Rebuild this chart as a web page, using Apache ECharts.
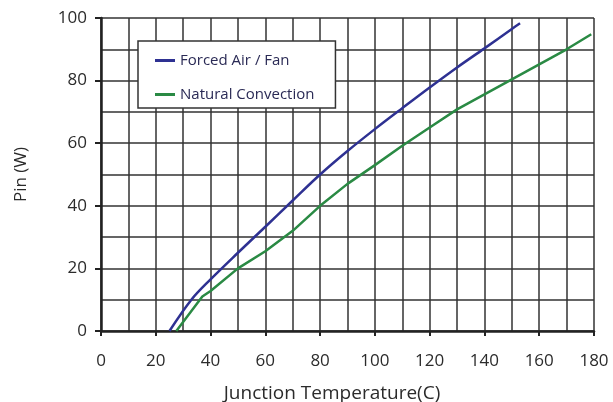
<!DOCTYPE html>
<html>
<head>
<meta charset="utf-8">
<script src="https://cdn.jsdelivr.net/npm/echarts@6/dist/echarts.min.js"></script>
<style>
  html, body { margin: 0; padding: 0; background: #fff; }
  #chart { width: 613px; height: 402px; }
</style>
</head>
<body>
<div id="chart"></div>
<script>
  // Junction temperature (C) vs input power (W)
  var forcedTemp = [25, 33, 40, 50, 60, 70, 80, 90, 100, 110, 120, 130, 140, 150, 153];
  var forcedPin = [0, 10, 16.5, 25, 33.3, 41.7, 50, 57.5, 64.5, 71.2, 77.8, 84.2, 90.3, 96.5, 98.3];

  var naturalTemp = [27.5, 37, 40, 50, 60, 70, 80, 90, 100, 110, 120, 130, 140, 150, 160, 170, 179];
  var naturalPin = [0, 11, 12.8, 20, 25.5, 32, 40, 47, 53, 59.2, 65, 70.8, 75.6, 80.4, 85.2, 90, 94.8];

  var seriesNames = ['Forced Air / Fan', 'Natural Convection'];
  var seriesColors = ['#2e3192', '#2a8a44'];

  function pairs(xs, ys) {
    return xs.map(function (x, i) { return [x, ys[i]]; });
  }

  var chart = echarts.init(document.getElementById('chart'));

  var gridLine = {show: true, lineStyle: {color: '#333', width: 1.5}};

  chart.setOption({
    animation: false,
    textStyle: {fontFamily: 'Open Sans'},
    grid: {
      left: 101,
      right: 19,
      top: 18,
      bottom: 71,
      outerBoundsMode: 'none'
    },
    legend: {
      orient: 'vertical',
      left: 138,
      top: 41,
      data: seriesNames,
      icon: 'rect',
      itemWidth: 20,
      itemHeight: 3,
      itemGap: 19,
      padding: [12, 21, 6, 17],
      backgroundColor: '#fff',
      borderColor: '#333',
      borderWidth: 1.5,
      borderRadius: 0,
      textStyle: {color: '#2a2a55', fontSize: 15}
    },
    xAxis: {
      type: 'value',
      min: 0,
      max: 180,
      interval: 20,
      name: 'Junction Temperature(C)',
      nameLocation: 'middle',
      nameGap: 53,
      nameTextStyle: {color: '#2b2b2b', fontSize: 19, padding: [0, 31, 0, 0]},
      axisLine: {show: true, lineStyle: {color: '#222', width: 2.5}},
      axisTick: {show: true, length: 5, lineStyle: {color: '#222', width: 2}},
      axisLabel: {color: '#2b2b2b', fontSize: 17, margin: 22},
      splitLine: gridLine,
      minorTick: {show: false, splitNumber: 2},
      minorSplitLine: gridLine
    },
    yAxis: {
      type: 'value',
      min: 0,
      max: 100,
      interval: 20,
      name: 'Pin (W)',
      nameLocation: 'middle',
      nameGap: 71,
      nameTextStyle: {color: '#2b2b2b', fontSize: 17},
      axisLine: {show: true, lineStyle: {color: '#222', width: 2.5}},
      axisTick: {show: true, length: 6, lineStyle: {color: '#222', width: 2}},
      axisLabel: {color: '#2b2b2b', fontSize: 17, margin: 14},
      splitLine: gridLine,
      minorTick: {show: false, splitNumber: 2},
      minorSplitLine: gridLine
    },
    series: [
      {
        name: seriesNames[0],
        type: 'line',
        data: pairs(forcedTemp, forcedPin),
        symbol: 'none',
        smooth: 0.35,
        lineStyle: {color: seriesColors[0], width: 2.5},
        itemStyle: {color: seriesColors[0]}
      },
      {
        name: seriesNames[1],
        type: 'line',
        data: pairs(naturalTemp, naturalPin),
        symbol: 'none',
        smooth: false,
        lineStyle: {color: seriesColors[1], width: 2.5},
        itemStyle: {color: seriesColors[1]}
      }
    ]
  });
</script>
</body>
</html>
